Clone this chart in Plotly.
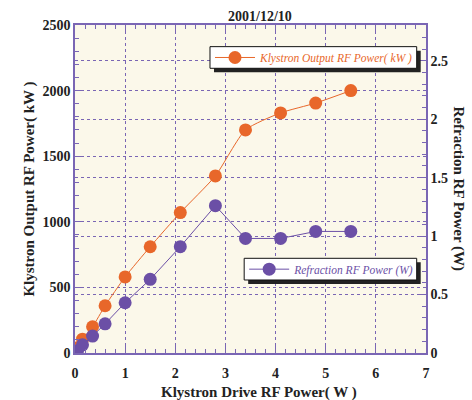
import plotly.graph_objects as go

# Klystron drive power (W)
drive_power = [0.05, 0.15, 0.35, 0.6, 1.0, 1.5, 2.1, 2.8, 3.4, 4.1, 4.8, 5.5]
# Klystron output RF power (kW)
output_power = [40, 105, 200, 360, 580, 810, 1070, 1350, 1700, 1830, 1905, 2000]
# Refraction RF power (W)
refraction_power = [0.02, 0.07, 0.145, 0.25, 0.43, 0.63, 0.91, 1.26, 0.98, 0.98, 1.04, 1.04]

x_ticks = [0, 1, 2, 3, 4, 5, 6, 7]
left_ticks = [0, 500, 1000, 1500, 2000, 2500]
right_ticks = [0, 0.5, 1, 1.5, 2, 2.5]

ORANGE = "#E8672A"
PURPLE = "#6B4FA6"
AXIS = "#7A66B4"
SERIF = "Liberation Serif, Times New Roman, serif"

fig = go.Figure()

fig.add_trace(go.Scatter(
    x=drive_power, y=output_power, name="<i>Klystron Output RF Power( kW )</i>",
    mode="lines+markers", line=dict(color=ORANGE, width=1, shape="spline", smoothing=0.6),
    marker=dict(color=ORANGE, size=13), legend="legend",
))
fig.add_trace(go.Scatter(
    x=drive_power, y=refraction_power, name="<i>Refraction RF Power (W)</i>",
    mode="lines+markers", line=dict(color=PURPLE, width=1),
    marker=dict(color=PURPLE, size=13), yaxis="y2", legend="legend2",
))

tickfont = dict(family=SERIF, size=14, color="#222", weight="bold")

fig.update_layout(
    width=472, height=400,
    margin=dict(l=75, r=46, t=25, b=47),
    font=dict(family=SERIF),
    paper_bgcolor="white",
    plot_bgcolor="#FBF8EA",
    xaxis=dict(
        range=[0, 7], tickvals=x_ticks, tickfont=tickfont, ticklabelstandoff=6,
        showline=True, linecolor=AXIS, linewidth=1.5, mirror="ticks",
        ticks="inside", ticklen=7, tickcolor=AXIS,
        minor=dict(ticks="inside", dtick=0.2, ticklen=4, tickcolor=AXIS),
        showgrid=True, gridcolor=AXIS, griddash="dot", gridwidth=1,
        zeroline=False,
    ),
    yaxis=dict(
        range=[0, 2500], tickvals=left_ticks, tickfont=tickfont,
        showline=True, linecolor=AXIS, linewidth=1.5,
        ticks="inside", ticklen=7, tickcolor=AXIS,
        minor=dict(ticks="inside", dtick=100, ticklen=4, tickcolor=AXIS),
        showgrid=True, gridcolor=AXIS, griddash="dot", gridwidth=1,
        zeroline=False,
        title=dict(text="Klystron Output RF Power( kW )", standoff=4,
                   font=dict(family=SERIF, size=15, color="#222", weight="bold")),
    ),
    yaxis2=dict(
        overlaying="y", side="right",
        range=[0, 2.806], tickvals=right_ticks, tickfont=tickfont,
        showline=True, linecolor=AXIS, linewidth=1.5,
        ticks="inside", ticklen=7, tickcolor=AXIS,
        minor=dict(ticks="inside", dtick=0.1, ticklen=4, tickcolor=AXIS),
        showgrid=True, gridcolor=AXIS, griddash="dot", gridwidth=1,
        zeroline=False,
    ),
    legend=dict(
        x=0.3846, y=0.901, xanchor="left", yanchor="middle",
        bgcolor="rgba(0,0,0,0)", borderwidth=0,
        font=dict(family=SERIF, size=11.5, color=ORANGE),
        itemwidth=40,
    ),
    legend2=dict(
        x=0.482, y=0.2556, xanchor="left", yanchor="middle",
        bgcolor="rgba(0,0,0,0)", borderwidth=0,
        font=dict(family=SERIF, size=11.5, color=PURPLE),
        itemwidth=40,
    ),
    showlegend=True,
)

# legend frames: dark drop shadow, then a white box with a thin black border
frames = [(0.3846, 0.9735, 0.868, 0.934), (0.482, 0.9735, 0.2226, 0.2887)]
for x0, x1, y0, y1 in frames:
    fig.add_shape(type="rect", xref="paper", yref="paper",
                  x0=x0 + 0.0114, x1=x1 + 0.0114, y0=y0 - 0.0122, y1=y1 - 0.0122,
                  fillcolor="#222", line=dict(width=0), layer="above")
    fig.add_shape(type="rect", xref="paper", yref="paper", x0=x0, x1=x1, y0=y0, y1=y1,
                  fillcolor="white", line=dict(color="#111", width=1), layer="above")

fig.add_annotation(text="2001/12/10", xref="paper", yref="paper", x=0.528, y=1.0,
                   yanchor="bottom", showarrow=False, yshift=-1,
                   font=dict(family=SERIF, size=14, color="#222", weight="bold"))
fig.add_annotation(text="Klystron Drive RF Power( W )", xref="paper", yref="paper",
                   x=0.524, y=0.0, yanchor="middle", yshift=-39, showarrow=False,
                   font=dict(family=SERIF, size=15, color="#222", weight="bold"))
fig.add_annotation(text="Refraction RF Power (W)", xref="paper", yref="paper", x=1.0, y=0.5,
                   xanchor="left", xshift=22, textangle=90, showarrow=False,
                   font=dict(family=SERIF, size=15, color="#222", weight="bold"))

fig.write_html("out.html")
